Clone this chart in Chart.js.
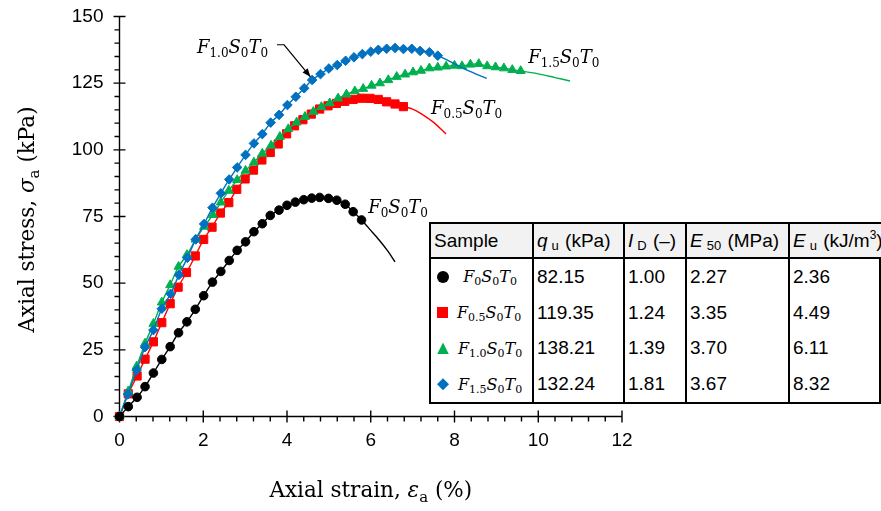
<!DOCTYPE html>
<html>
<head>
<meta charset="utf-8">
<script src="https://cdn.jsdelivr.net/npm/chart.js@4.4.1/dist/chart.umd.min.js"></script>
<style>
  html, body { margin: 0; padding: 0; background: #fff; }
  #wrap { position: relative; width: 881px; height: 511px; }
  #wrap canvas { position: absolute; left: 0; top: 0; }
  #props {
    position: absolute; left: 429px; top: 222px; width: 452px; height: 182px;
    box-sizing: border-box; border: 2px solid #000; background: #fff;
    display: grid; grid-template-columns: 101px 91px 62px 103px auto;
    grid-template-rows: 35px repeat(4, 1fr);
    font-family: "Liberation Sans", Arial, sans-serif; font-size: 19px; color: #000;
  }
  #props > div { box-sizing: border-box; display: flex; align-items: center; padding-left: 3px; white-space: nowrap; }
  #props > div.c { border-left: 2px solid #000; }
  #props > div.h { background: #f2f2f2; border-bottom: 2px solid #000; }
  #props sub { font-size: 13px; vertical-align: -3px; line-height: 0; margin-left: 4px; margin-right: 1px; }
  #props sup { font-size: 12px; vertical-align: 8px; line-height: 0; }
  .mk { display: inline-block; width: 12px; height: 12px; margin-left: 3px; flex: none; }
  .mk.circle { background: #000; border-radius: 50%; }
  .mk.square { background: #ff0000; width: 11px; height: 11px; }
  .mk.triangle { background: #00b050; clip-path: polygon(50% 0, 100% 100%, 0 100%); }
  .mk.diamond { background: #0070c0; clip-path: polygon(50% 0, 100% 50%, 50% 100%, 0 50%); }
  .nm { display: inline-block; width: 76px; text-align: center; margin-left: 3px;
        font-family: "DejaVu Serif", serif; font-style: italic; font-size: 16px; }
  .nm sub { font-style: normal; font-size: 11px !important; margin: 0 !important; vertical-align: -3px !important; }
</style>
</head>
<body>
<div id="wrap">
  <canvas id="myChart" width="881" height="511"></canvas>
  <div id="props"></div>
</div>
<script>
// strain (%) and axial stress (kPa) at the plotted markers, 0.2 % apart
const f0Strain = [0, 0.21, 0.42, 0.61, 0.81, 1.01, 1.21, 1.41, 1.61, 1.81, 2.01, 2.22, 2.42, 2.62, 2.81,
  3.01, 3.21, 3.41, 3.60, 3.81, 4.00, 4.20, 4.40, 4.59, 4.78, 4.99, 5.19, 5.39, 5.58, 5.78]
const f0Stress = [0, 3.7, 7.2, 11.2, 16.3, 21.4, 26.2, 31.4, 35.5, 40.2, 45.3, 50.4, 54.4, 58.5, 62.3,
  65.5, 69.3, 72.3, 75.4, 77.4, 79.2, 80.4, 81.3, 81.9, 82.15, 81.8, 81.1, 79.6, 76.8, 73.7]

const f05Strain = [0, 0.21, 0.42, 0.61, 0.81, 1.01, 1.21, 1.40, 1.60, 1.81, 2.01, 2.21, 2.41, 2.61, 2.80,
  3.00, 3.20, 3.40, 3.60, 3.79, 3.99, 4.18, 4.38, 4.58, 4.78, 4.98, 5.18, 5.38, 5.58, 5.78, 5.98, 6.18,
  6.38, 6.58, 6.78]
const f05Stress = [0, 8.5, 15.2, 21.5, 28.0, 35.2, 42.3, 48.5, 54.0, 60.2, 66.4, 71.0, 76.3, 80.2, 85.2,
  89.1, 92.4, 96.2, 99.0, 102.2, 106.0, 109.0, 111.3, 113.4, 115.3, 116.5, 117.4, 118.2, 118.9, 119.35,
  119.3, 118.9, 118.0, 117.2, 116.2]

const f15Strain = [0, 0.21, 0.41, 0.61, 0.81, 1.01, 1.21, 1.41, 1.61, 1.82, 2.02, 2.23, 2.42, 2.61, 2.81,
  3.01, 3.21, 3.41, 3.62, 3.83, 4.03, 4.23, 4.43, 4.63, 4.82, 5.02, 5.22, 5.42, 5.62, 5.82, 6.02, 6.22,
  6.42, 6.62, 6.82, 7.01, 7.20, 7.40, 7.60, 7.80, 8.00, 8.18, 8.38, 8.58, 8.78, 8.98, 9.18, 9.38, 9.58]
const f15Stress = [0, 9.5, 18.8, 27.4, 34.8, 42.8, 49.3, 56.2, 60.6, 66.4, 71.2, 75.6, 80.3, 84.7, 88.7,
  92.2, 95.3, 98.6, 101.6, 104.9, 107.8, 110.3, 112.4, 114.3, 116.1, 117.5, 119.3, 120.8, 122.0, 122.9,
  124.1, 125.0, 126.2, 127.4, 128.3, 129.1, 129.7, 130.6, 130.9, 131.3, 131.6, 131.4, 132.0, 132.24,
  131.4, 131.0, 130.6, 130.0, 129.6]

const f10Strain = [0, 0.20, 0.41, 0.61, 0.81, 1.01, 1.22, 1.42, 1.62, 1.82, 2.02, 2.22, 2.42, 2.62, 2.81,
  3.01, 3.21, 3.41, 3.61, 3.81, 4.01, 4.21, 4.41, 4.60, 4.80, 5.00, 5.20, 5.40, 5.60, 5.80, 6.00, 6.18,
  6.38, 6.58, 6.78, 6.98, 7.18, 7.40, 7.60]
const f10Stress = [0, 8.3, 17.4, 26.0, 32.4, 40.4, 46.0, 53.1, 59.5, 66.4, 72.2, 78.3, 83.7, 88.9, 93.4,
  98.1, 102.4, 105.9, 110.2, 113.1, 116.8, 119.9, 123.1, 126.2, 128.4, 130.5, 131.8, 133.4, 134.7, 135.9,
  136.8, 137.5, 137.9, 138.21, 137.8, 137.9, 137.1, 136.6, 135.3]

// post-peak curves past the last marker
const f0TailStrain = [6.0, 6.2, 6.4, 6.58]
const f0TailStress = [69.8, 66.2, 62.2, 58.0]
const f05TailStrain = [7.0, 7.2, 7.5, 7.8]
const f05TailStress = [115.3, 113.6, 110.3, 105.9]
const f15TailStrain = [10.0, 10.4, 10.76]
const f15TailStress = [128.5, 127.1, 125.8]
const f10TailStrain = [7.9, 8.3, 8.77]
const f10TailStress = [133.1, 129.9, 126.8]

// table values
const sampleSubs = ['0', '0.5', '1.0', '1.5']
const qu = ['82.15', '119.35', '138.21', '132.24']
const id = ['1.00', '1.24', '1.39', '1.81']
const e50 = ['2.27', '3.35', '3.70', '3.67']
const eu = ['2.36', '4.49', '6.11', '8.32']

const SERIF = '"DejaVu Serif", serif'

function series(label, strain, stress, tailStrain, tailStress, color, style, radius, order) {
  const n = strain.length
  const xs = strain.concat(tailStrain)
  const ys = stress.concat(tailStress)
  return {
    label,
    order,
    data: xs.map((x, i) => ({ x, y: ys[i] })),
    showLine: true,
    borderColor: color,
    backgroundColor: color,
    borderWidth: 1.4,
    pointStyle: style,
    pointRadius: (c) => (c.dataIndex < n ? radius : 0),
    pointBorderWidth: 1,
    pointBorderColor: color,
    pointBackgroundColor: color,
    tension: 0.3,
    clip: false,
  }
}

// italic letters with upright subscripts, drawn piece by piece
function richParts(sub) {
  return [['F', 'i'], [sub, 's'], ['S', 'i'], ['0', 's'], ['T', 'i'], ['0', 's']]
}
function setFont(ctx, k, size) {
  const s = k === 's' ? Math.round(size * 0.68) : size
  ctx.font = (k === 'i' ? 'italic ' : '') + s + 'px ' + SERIF
}
function richWidth(ctx, parts, size) {
  let w = 0
  for (const [t, k] of parts) { setFont(ctx, k, size); w += ctx.measureText(t).width }
  return w
}
function drawRich(ctx, parts, x, y, size) {
  ctx.textBaseline = 'alphabetic'
  ctx.textAlign = 'left'
  for (const [t, k] of parts) {
    setFont(ctx, k, size)
    ctx.fillText(t, x, k === 's' ? y + size * 0.24 : y)
    x += ctx.measureText(t).width
  }
  return x
}

const axisDecor = {
  id: 'axisDecor',
  beforeDatasetsDraw(chart) {
    const { ctx, chartArea: a, scales: { x, y } } = chart
    ctx.save()
    ctx.strokeStyle = '#000'
    ctx.lineWidth = 1.4
    ctx.beginPath()
    ctx.moveTo(a.left, a.top)
    ctx.lineTo(a.left, a.bottom)
    ctx.lineTo(a.right, a.bottom)
    for (let v = 0; v <= 150; v += 5) {
      const py = y.getPixelForValue(v)
      if (v % 25 === 0) { ctx.moveTo(a.left - 6, py); ctx.lineTo(a.left + 6, py) }
      else { ctx.moveTo(a.left - 5, py); ctx.lineTo(a.left, py) }
    }
    for (let k = 0; k <= 30; k++) {
      const px = x.getPixelForValue(k * 0.4)
      if (k % 5 === 0) { ctx.moveTo(px, a.bottom - 6); ctx.lineTo(px, a.bottom + 6) }
      else { ctx.moveTo(px, a.bottom); ctx.lineTo(px, a.bottom + 5) }
    }
    ctx.stroke()
    ctx.restore()
  },
  afterDraw(chart) {
    const { ctx, chartArea: a, scales: { x, y } } = chart
    ctx.save()
    ctx.fillStyle = '#000'

    // axis titles
    const xt = [['Axial strain, ', 'r'], ['ε', 'i'], ['a', 's'], [' (%)', 'r']]
    const yt = [['Axial stress, ', 'r'], ['σ', 'i'], ['a', 's'], [' (kPa)', 'r']]
    const ts = 21.5
    drawRich(ctx, xt, (a.left + a.right) / 2 - richWidth(ctx, xt, ts) / 2, 497, ts)
    ctx.save()
    ctx.translate(33.5, (a.top + a.bottom) / 2 + 3)
    ctx.rotate(-Math.PI / 2)
    drawRich(ctx, yt, -richWidth(ctx, yt, ts) / 2, 0, ts)
    ctx.restore()

    // curve labels, anchored in data units
    const labels = [
      { sub: '1.0', sx: 1.85, sy: 136.3 },
      { sub: '1.5', sx: 9.76, sy: 132.5 },
      { sub: '0.5', sx: 7.44, sy: 113.4 },
      { sub: '0', sx: 5.94, sy: 76.3 },
    ]
    for (const l of labels) drawRich(ctx, richParts(l.sub), x.getPixelForValue(l.sx), y.getPixelForValue(l.sy), 18)

    // leader arrow for the first label
    const p0 = [x.getPixelForValue(3.76), y.getPixelForValue(139.4)]
    const p1 = [x.getPixelForValue(3.93), y.getPixelForValue(139.4)]
    const tip = [x.getPixelForValue(4.56), y.getPixelForValue(127.4)]
    ctx.strokeStyle = '#000'
    ctx.lineWidth = 1.2
    ctx.beginPath()
    ctx.moveTo(p0[0], p0[1]); ctx.lineTo(p1[0], p1[1]); ctx.lineTo(tip[0], tip[1])
    ctx.stroke()
    const ang = Math.atan2(tip[1] - p1[1], tip[0] - p1[0])
    ctx.beginPath()
    ctx.moveTo(tip[0], tip[1])
    ctx.lineTo(tip[0] - 9 * Math.cos(ang - 0.38), tip[1] - 9 * Math.sin(ang - 0.38))
    ctx.lineTo(tip[0] - 9 * Math.cos(ang + 0.38), tip[1] - 9 * Math.sin(ang + 0.38))
    ctx.closePath()
    ctx.fill()
    ctx.restore()
  },
}

const ctx = document.getElementById('myChart').getContext('2d')

const data = {
  datasets: [
    series('F0S0T0', f0Strain, f0Stress, f0TailStrain, f0TailStress, '#000000', 'circle', 4.3, 0),
    series('F0.5S0T0', f05Strain, f05Stress, f05TailStrain, f05TailStress, '#ff0000', 'rect', 5.8, 3),
    series('F1.5S0T0', f15Strain, f15Stress, f15TailStrain, f15TailStress, '#00b050', 'triangle', 5.2, 2),
    series('F1.0S0T0', f10Strain, f10Stress, f10TailStrain, f10TailStress, '#0070c0', 'rectRot', 4.8, 1),
  ],
}

const tickFont = { family: '"Liberation Sans", Arial, sans-serif', size: 19 }

const config = {
  type: 'scatter',
  data,
  options: {
    responsive: false,
    animation: false,
    events: [],
    layout: { padding: { left: 0, top: 16.5, right: 259, bottom: 0 } },
    plugins: { legend: { display: false }, tooltip: { enabled: false } },
    scales: {
      x: {
        type: 'linear', min: 0, max: 12,
        grid: { display: false, drawTicks: true, tickLength: 9 },
        border: { display: false },
        ticks: { stepSize: 2, color: '#000', font: tickFont, padding: 4, maxRotation: 0 },
        afterFit: (s) => { s.height = 94.5 },
      },
      y: {
        type: 'linear', min: 0, max: 150,
        grid: { display: false, drawTicks: true, tickLength: 12 },
        border: { display: false },
        ticks: { stepSize: 25, color: '#000', font: tickFont, padding: 4 },
        afterFit: (s) => { s.width = 119.5 },
      },
    },
  },
  plugins: [axisDecor],
}

const myChart = new Chart(ctx, config)

// property table beside the curves
const markers = ['circle', 'square', 'triangle', 'diamond']
const sampleName = (s) => `<i>F</i><sub>${s}</sub><i>S</i><sub>0</sub><i>T</i><sub>0</sub>`
let html = '<div class="h"><span>Sample</span></div>' +
  '<div class="h c"><span><i>q</i><sub>u</sub> (kPa)</span></div>' +
  '<div class="h c"><span><i>I</i><sub>D</sub> (–)</span></div>' +
  '<div class="h c"><span><i>E</i><sub>50</sub> (MPa)</span></div>' +
  '<div class="h c"><span><i>E</i><sub>u</sub> (kJ/m<sup>3</sup>)</span></div>'
sampleSubs.forEach((s, i) => {
  html += `<div><span class="mk ${markers[i]}"></span><span class="nm">${sampleName(s)}</span></div>` +
    `<div class="c"><span>${qu[i]}</span></div><div class="c"><span>${id[i]}</span></div>` +
    `<div class="c"><span>${e50[i]}</span></div><div class="c"><span>${eu[i]}</span></div>`
})
document.getElementById('props').innerHTML = html
</script>
</body>
</html>
